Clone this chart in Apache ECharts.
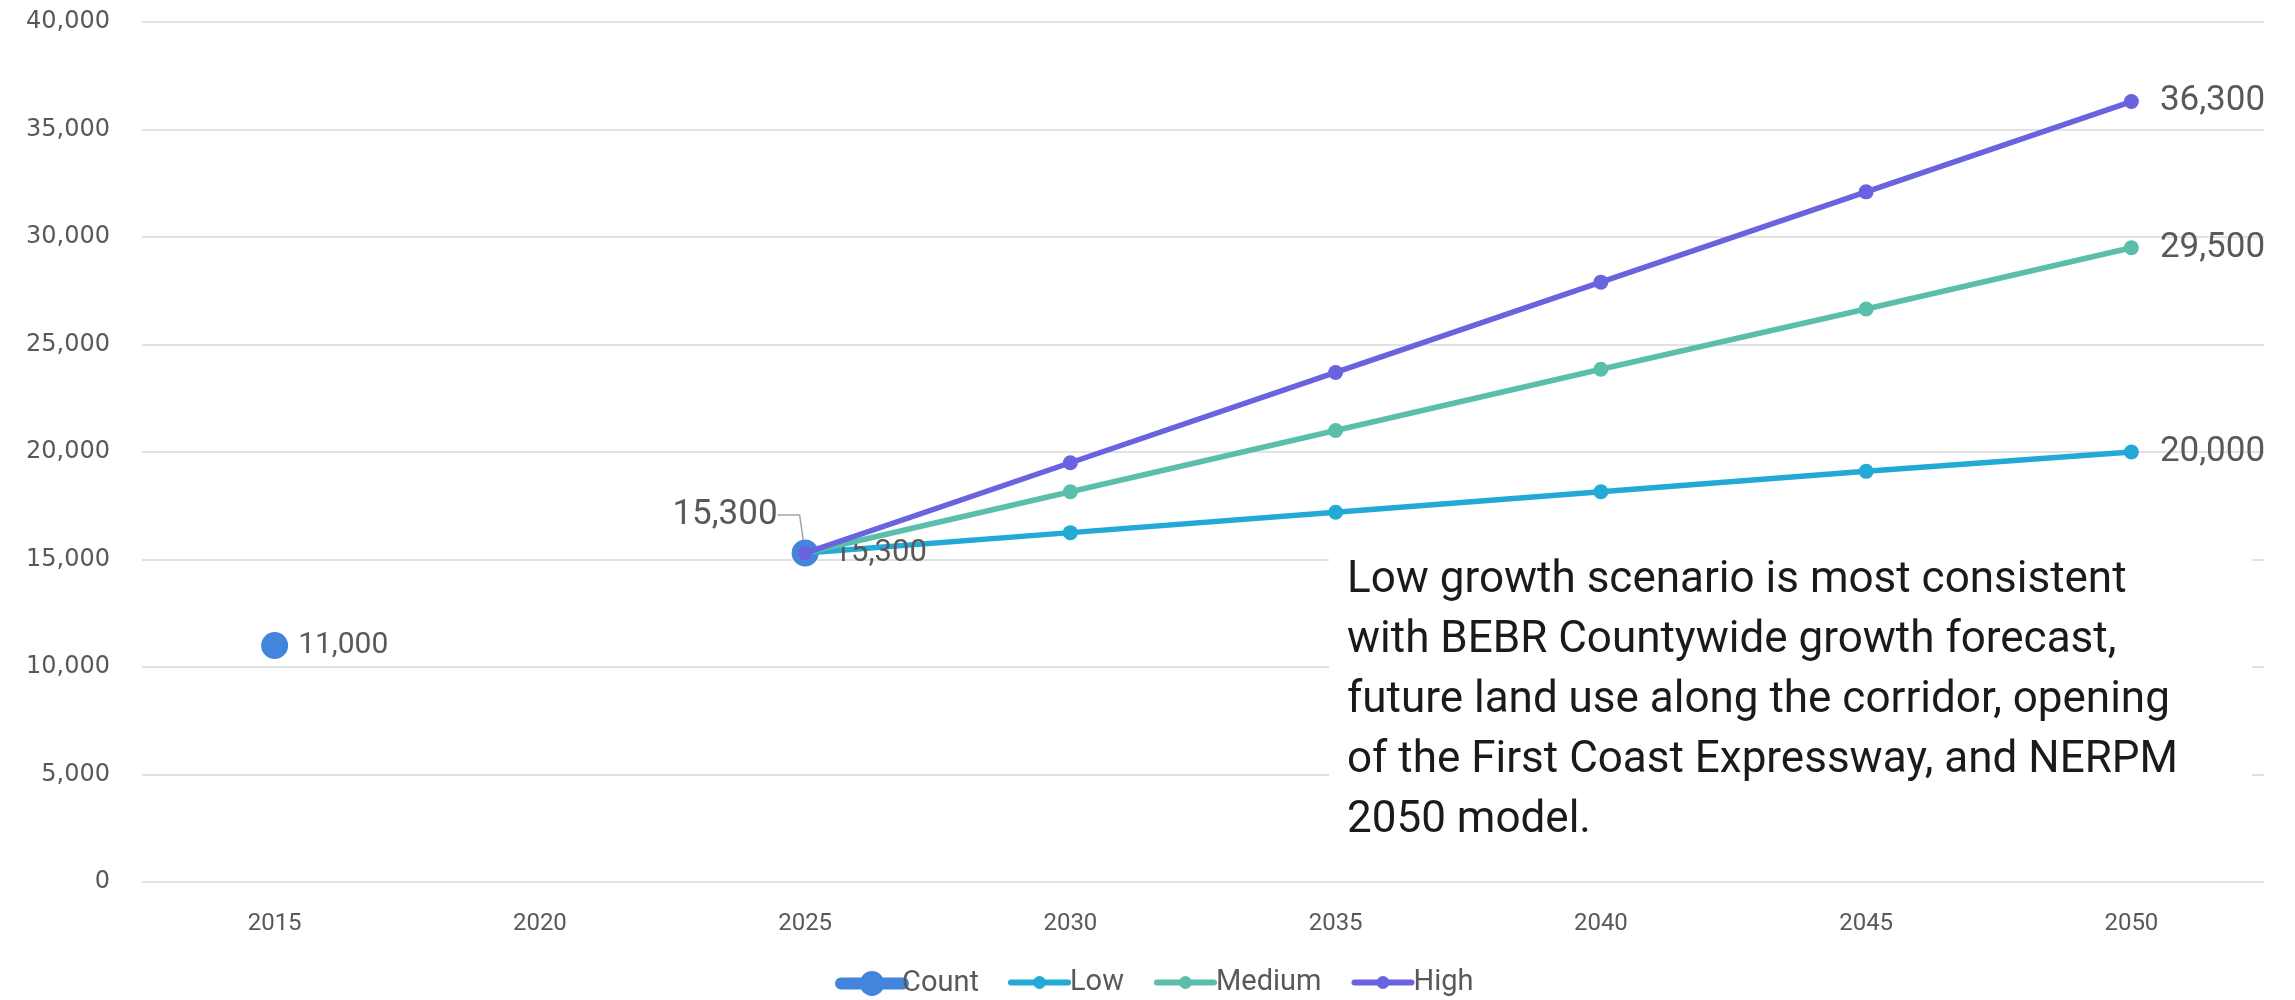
<!DOCTYPE html>
<html>
<head>
<meta charset="utf-8">
<script src="https://cdn.jsdelivr.net/npm/echarts@6/dist/echarts.min.js"></script>
<style>
  html, body { margin: 0; padding: 0; background: #fff; }
  #chart { width: 2295px; height: 1000px; }
</style>
</head>
<body>
<div id="chart"></div>
<script>
// years on the x axis
const years = ['2015', '2020', '2025', '2030', '2035', '2040', '2045', '2050']
// observed counts
const countVals = [11000, null, 15300, null, null, null, null, null]
// growth scenarios
const lowVals = [null, null, 15300, 16250, 17200, 18150, 19100, 20000]
const mediumVals = [null, null, 15300, 18150, 21000, 23850, 26650, 29500]
const highVals = [null, null, 15300, 19500, 23700, 27900, 32100, 36300]
const note = 'Low growth scenario is most consistent\nwith BEBR Countywide growth forecast,\nfuture land use along the corridor, opening\nof the First Coast Expressway, and NERPM\n2050 model.'

const fmt = v => Number(v).toLocaleString('en-US')
const lastIdx = years.length - 1
const labelColor = '#595959'
const font = 'Roboto, "Noto Sans", sans-serif'

// label only on the last point (and for Low also on 2025)
function endLabels(vals, firstToo) {
  return vals.map((v, i) => {
    if (v == null) return null
    if (i === lastIdx) {
      return { value: v, label: { show: true, position: 'right', distance: 21, fontSize: 35, color: labelColor } }
    }
    if (firstToo && i === 2) {
      return { value: v, label: { show: true, position: 'right', distance: 21, fontSize: 31, color: labelColor } }
    }
    return v
  })
}

const chart = echarts.init(document.getElementById('chart'))
const option = {
  animation: false,
  textStyle: { fontFamily: font },
  grid: { left: 142, right: 31, top: 22, bottom: 118 },
  // two legends so the Count icon can be drawn larger than the others
  legend: [
    {
      left: 830,
      top: 964,
      itemWidth: 62,
      itemHeight: 31,
      textStyle: { fontSize: 29, color: labelColor, padding: [0, 0, 0, -6] },
      data: [{ name: 'Count', lineStyle: { width: 12, cap: 'round' } }]
    },
    {
      left: 1003,
      top: 963,
      itemWidth: 57,
      itemHeight: 16,
      itemGap: 30,
      textStyle: { fontSize: 29, color: labelColor, padding: [0, 0, 0, -3] },
      data: [
        { name: 'Low', lineStyle: { width: 6, cap: 'round' } },
        { name: 'Medium', lineStyle: { width: 6, cap: 'round' } },
        { name: 'High', lineStyle: { width: 6, cap: 'round' } }
      ]
    }
  ],
  xAxis: {
    type: 'category',
    data: years,
    boundaryGap: true,
    axisLine: { show: false },
    axisTick: { show: false },
    axisLabel: { fontSize: 24, color: labelColor, margin: 30 }
  },
  yAxis: {
    type: 'value',
    min: 0,
    max: 40000,
    interval: 5000,
    axisLabel: { fontSize: 24, color: labelColor, margin: 32, fontFamily: '"DejaVu Sans", sans-serif', formatter: fmt },
    splitLine: { lineStyle: { color: '#d9d9d9', width: 1.5 } }
  },
  series: [
    {
      name: 'Count',
      type: 'line',
      data: countVals.map((v, i) => {
        if (v == null) return null
        if (i === 0) {
          return { value: v, label: { show: true, position: 'right', distance: 10, fontSize: 30, color: labelColor }, labelLine: { show: false } }
        }
        return { value: v, label: { show: true, position: 'left', distance: 14, fontSize: 35, color: labelColor } }
      }),
      symbol: 'circle',
      symbolSize: 27,
      lineStyle: { width: 8, color: '#4384dc' },
      itemStyle: { color: '#4384dc' },
      label: { formatter: p => fmt(p.value) },
      labelLayout: p => (p.dataIndex === 2 ? { dy: -38 } : {}),
      labelLine: { show: true, length2: 22, lineStyle: { color: '#a6a6a6', width: 1.5 } },
      connectNulls: false,
      z: 2
    },
    {
      name: 'Low',
      type: 'line',
      data: endLabels(lowVals, true),
      symbol: 'circle',
      symbolSize: 15,
      lineStyle: { width: 5.5, color: '#23a9d6' },
      itemStyle: { color: '#23a9d6' },
      label: { formatter: p => fmt(p.value) },
      z: 3
    },
    {
      name: 'Medium',
      type: 'line',
      data: endLabels(mediumVals, false),
      symbol: 'circle',
      symbolSize: 15,
      lineStyle: { width: 5.5, color: '#5bbeaa' },
      itemStyle: { color: '#5bbeaa' },
      label: { formatter: p => fmt(p.value) },
      z: 4
    },
    {
      name: 'High',
      type: 'line',
      data: endLabels(highVals, false),
      symbol: 'circle',
      symbolSize: 15,
      lineStyle: { width: 5.5, color: '#6a63e0' },
      itemStyle: { color: '#6a63e0' },
      label: { formatter: p => fmt(p.value) },
      z: 5
    }
  ],
  graphic: [
    {
      type: 'rect',
      left: 1329,
      top: 545,
      z: 9,
      shape: { width: 923, height: 312 },
      style: { fill: '#fff' }
    },
    {
      type: 'text',
      left: 1347,
      top: 551,
      z: 10,
      style: {
        text: note,
        fontSize: 44,
        lineHeight: 60,
        fill: '#1a1a1a',
        fontFamily: font
      }
    }
  ]
}
chart.setOption(option)
</script>
</body>
</html>
